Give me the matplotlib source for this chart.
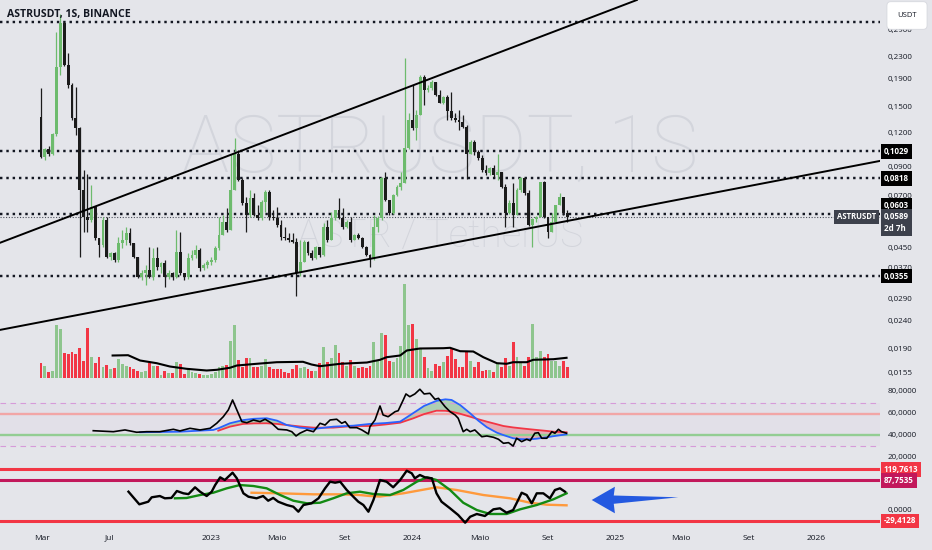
import numpy as np
import matplotlib
matplotlib.use("Agg")
import matplotlib.pyplot as plt
from matplotlib import transforms
from matplotlib.patches import Polygon

# ---- weekly ASTR/USDT candles (first week starts 2022-02-28), open = previous close
start_week = np.datetime64("2022-02-28")
first_open = 0.138
close = [
    0.098, 0.105, 0.101, 0.119, 0.212, 0.308, 0.216, 0.182, 0.137, 0.126,
    0.0741, 0.0588, 0.0573, 0.064, 0.0491, 0.0463, 0.0573, 0.0418, 0.0432, 0.0407,
    0.0471, 0.0485, 0.0513, 0.0471, 0.0418, 0.0352, 0.0364, 0.0374, 0.0352, 0.0414,
    0.0383, 0.0397, 0.0352, 0.0364, 0.0352, 0.0436, 0.0364, 0.0352, 0.0414, 0.0425,
    0.0444, 0.038, 0.039, 0.040, 0.0407, 0.0451, 0.0504, 0.0563, 0.0526, 0.0741,
    0.101, 0.0807, 0.0663, 0.0598, 0.0692, 0.0598, 0.0583, 0.0669, 0.0728, 0.0588,
    0.0583, 0.0549, 0.0496, 0.049, 0.0483, 0.0475, 0.0364, 0.040, 0.0475, 0.0432,
    0.0414, 0.0455, 0.0425, 0.054, 0.0483, 0.0583, 0.0624, 0.0583, 0.054, 0.0563,
    0.0483, 0.0504, 0.0491, 0.0455, 0.0425, 0.0414, 0.054, 0.0583, 0.0821, 0.068,
    0.061, 0.071, 0.076, 0.0787, 0.106, 0.1346, 0.1255, 0.141, 0.195, 0.174,
    0.177, 0.186, 0.167, 0.156, 0.164, 0.145, 0.137, 0.1346, 0.132, 0.127,
    0.101, 0.1115, 0.1025, 0.0975, 0.0879, 0.0857, 0.0894, 0.0842, 0.0862, 0.076,
    0.0607, 0.066, 0.0598, 0.0741, 0.0821, 0.0722, 0.0549, 0.0578, 0.0588, 0.0793,
    0.0588, 0.0517, 0.0563, 0.0652, 0.0698, 0.0607, 0.0589,
]
high = [
    0.177, 0.106, 0.108, 0.120, 0.285, 0.333, 0.310, 0.239, 0.185, 0.178,
    0.127, 0.0879, 0.085, 0.0773, 0.064, 0.0491, 0.0588, 0.0588, 0.0435, 0.0435,
    0.0496, 0.0526, 0.054, 0.0535, 0.0471, 0.0418, 0.0374, 0.039, 0.0455, 0.0451,
    0.0455, 0.040, 0.0407, 0.0374, 0.0367, 0.0526, 0.0517, 0.0364, 0.0432, 0.0444,
    0.0463, 0.0452, 0.0396, 0.0407, 0.0418, 0.046, 0.0588, 0.0598, 0.0635, 0.101,
    0.1155, 0.1042, 0.082, 0.0698, 0.0741, 0.0722, 0.0652, 0.068, 0.0741, 0.0741,
    0.0624, 0.064, 0.0573, 0.054, 0.0513, 0.0513, 0.0491, 0.0483, 0.0483, 0.0478,
    0.0444, 0.0459, 0.0455, 0.0559, 0.0573, 0.0613, 0.0624, 0.0692, 0.0635, 0.0573,
    0.0588, 0.0508, 0.0513, 0.0496, 0.0459, 0.0428, 0.0598, 0.0593, 0.0826, 0.0862,
    0.068, 0.0716, 0.0773, 0.0862, 0.228, 0.143, 0.182, 0.147, 0.198, 0.197,
    0.182, 0.189, 0.186, 0.174, 0.165, 0.166, 0.171, 0.143, 0.147, 0.141,
    0.129, 0.1135, 0.1135, 0.1042, 0.0999, 0.0917, 0.0901, 0.0917, 0.101, 0.0862,
    0.0779, 0.068, 0.0786, 0.0754, 0.0826, 0.0821, 0.0741, 0.0583, 0.0593, 0.0793,
    0.080, 0.0588, 0.0607, 0.0652, 0.0722, 0.0698, 0.0624,
]
low = [
    0.097, 0.096, 0.099, 0.100, 0.117, 0.198, 0.214, 0.177, 0.135, 0.1185,
    0.0418, 0.0517, 0.0517, 0.0563, 0.0483, 0.0418, 0.0455, 0.0414, 0.0407, 0.040,
    0.040, 0.045, 0.0463, 0.0463, 0.0414, 0.0349, 0.0343, 0.0329, 0.0349, 0.0343,
    0.0374, 0.0364, 0.0324, 0.0346, 0.0343, 0.0349, 0.0358, 0.0343, 0.0346, 0.0407,
    0.0414, 0.037, 0.0374, 0.038, 0.039, 0.040, 0.0444, 0.0504, 0.0517, 0.0526,
    0.0741, 0.080, 0.0652, 0.0517, 0.0590, 0.0593, 0.0573, 0.0573, 0.0613, 0.0573,
    0.0573, 0.054, 0.0483, 0.0483, 0.0475, 0.0471, 0.030, 0.0355, 0.040, 0.0425,
    0.0407, 0.0411, 0.0418, 0.0421, 0.0475, 0.0483, 0.0573, 0.0578, 0.0531, 0.0535,
    0.0475, 0.0483, 0.0487, 0.0451, 0.0421, 0.0382, 0.0407, 0.0517, 0.0573, 0.0674,
    0.0598, 0.0602, 0.0704, 0.0741, 0.0787, 0.1050, 0.1236, 0.1135, 0.141, 0.153,
    0.171, 0.174, 0.165, 0.155, 0.154, 0.1346, 0.1346, 0.132, 0.1236, 0.1255,
    0.081, 0.101, 0.0999, 0.0957, 0.0862, 0.0842, 0.0842, 0.0826, 0.0807, 0.0754,
    0.054, 0.0602, 0.054, 0.0598, 0.0728, 0.0710, 0.0544, 0.0455, 0.0563, 0.0588,
    0.0583, 0.0491, 0.0517, 0.0563, 0.0652, 0.0598, 0.0563,
]
# weekly volume (millions ASTR)
volume = [
    15, 12, 6, 7, 53, 49, 25, 24, 26, 24, 30, 17, 50, 21, 15, 21, 11, 13, 9, 10,
    19, 14, 12, 11, 9, 7, 6, 7, 15, 12, 12, 3, 7, 5, 5, 16, 14, 4, 9, 6,
    5, 4, 3, 3, 4, 6, 11, 12, 13, 37, 53, 18, 11, 20, 20, 11, 11, 12, 19, 11,
    9, 9, 9, 6, 5, 9, 13, 10, 11, 9, 7, 7, 15, 31, 16, 20, 33, 25, 16, 12,
    18, 12, 10, 11, 10, 12, 36, 18, 45, 43, 17, 16, 20, 32, 94, 53, 54, 39, 29, 21,
    10, 7, 14, 12, 16, 22, 29, 19, 11, 11, 27, 17, 11, 16, 7, 8, 8, 6, 14, 11,
    20, 12, 36, 21, 16, 12, 21, 54, 21, 27, 21, 24, 17, 17, 12, 17, 11,
]
vol_ma_week = [18.5, 22.5, 25.6, 29.9, 33.3, 37.6, 42.8, 45.4, 48.8, 50.6, 55.7, 60.9,
               67.7, 69.9, 72.1, 77.3, 84.2, 87.6, 89.3, 92.8, 94.5, 97.9, 104.0, 105.7,
               108.3, 111.7, 114.3, 117.8, 120.3, 122.0, 125.5, 127.2, 132.4, 135.8]
vol_ma = [22, 22.3, 17, 14.3, 11, 8.7, 7, 7.7, 9.7, 12, 13.7, 15.3, 15.7, 13, 11.3, 13.7,
          15, 17.7, 20.3, 22, 27, 29, 29.3, 29.7, 26.3, 26, 20.3, 14.3, 13.7, 15.3,
          15.3, 17.7, 18.3, 19.7]

# ---- RSI pane
rsi_week = [13.5, 18.7, 21.7, 24.7, 27.3, 30.7, 34.2, 35.9, 38.5, 41.1,
            43.7, 45.4, 47.1, 48.4, 49.5, 50.6, 51.9, 53.2, 54.9, 56.6,
            57.9, 59.6, 61.3, 63.5, 64.8, 65.9, 66.9, 68.7, 70.4, 72.1,
            73.4, 74.7, 76.4, 77.7, 78.6, 79.8, 81.6, 82.9, 84.6, 85.0,
            86.3, 87.6, 88.4, 89.7, 91.5, 92.3, 93.6, 94.3, 95.3, 96.6,
            97.9, 99.0, 100.5, 101.8, 102.7, 104.4, 105.7, 107.0, 107.8, 109.1,
            110.0, 110.9, 112.1, 113.9, 115.2, 116.9, 118.2, 119.5, 120.8, 122.0,
            122.9, 124.2, 125.5, 126.4, 127.6, 128.5, 129.4, 130.7, 132.0, 132.8,
            133.7, 134.5, 135.8]
rsi = [44.3, 43.4, 45, 42.9, 43.4, 43.4, 45.6, 44.1, 46.5, 45,
       46.5, 51.1, 57.1, 63.3, 72.4, 63.3, 52.6, 51.6, 54.1, 52.6,
       54.8, 51.1, 45.6, 45, 43.4, 39.5, 42, 45, 43.4, 51.1,
       49.5, 54.1, 54.8, 51.1, 52.6, 47.1, 47.1, 45, 41.3, 48,
       54.1, 66.9, 58.7, 57.1, 61.7, 62.6, 72.4, 77.9, 75.4, 77.9,
       82.2, 77.9, 78.5, 73, 73.9, 66.3, 61.7, 58.7, 55.7, 43.4,
       45.6, 43.4, 45, 38.8, 39.5, 38.3, 36.5, 32.8, 33.4, 30.3,
       37.4, 34.3, 36.5, 35.2, 42, 42.5, 37.4, 37.4, 43.4, 42,
       45.6, 43.4, 42]
rsi_fast_early_week = [25.6, 35.9, 44.5]
rsi_fast_early = [42.9, 43.4, 45]
rsi_ma_week = [45.8, 48.8, 52.2, 55.0, 58.3, 61.0, 63.5, 66.9, 70.4, 75.5, 80.7, 85.0,
               89.0, 92.8, 96.1, 99.0, 102.2, 104.5, 106.1, 108.3, 110.9, 113.0, 115.2,
               117.8, 119.5, 122.0, 124.0, 126.4, 128.1, 130.7, 132.4, 135.8]
rsi_fast = [46.5, 51.1, 54, 55.2, 55.7, 53.5, 49.5, 47.1, 45.9, 48, 48.9, 50.5,
            51.3, 52.6, 60.2, 67, 71.6, 73, 72.4, 67.8, 60.2, 53.5, 47.5,
            42.5, 40.3, 37.4, 36.6, 36.5, 37, 38.3, 39.3, 41]
rsi_slow = [44.3, 48, 50.5, 51, 51.1, 50.5, 49.5, 48.2, 47.1, 47.1, 48.6, 48.6,
            50, 51.6, 55.5, 59.5, 62.6, 62.5, 61.7, 59.8, 57.1, 54.8, 52.6,
            50.2, 48.6, 47.3, 46.5, 45.6, 45, 44.1, 43.4, 42.9]

# ---- bottom oscillator pane
osc_week = [22.6, 25.4, 27.7, 28.6, 30.7, 32.0, 33.7, 35.1, 36.8, 38.1, 39.8, 41.1,
            42.8, 44.1, 45.0, 46.3, 47.5, 48.4, 49.5, 50.6, 52.3, 53.6, 55.7, 57.4,
            58.7, 60.0, 61.3, 63.5, 65.2, 66.5, 67.8, 69.9, 71.7, 73.4, 74.7, 76.0,
            77.3, 79.0, 80.7, 82.0, 83.3, 84.6, 85.9, 87.6, 89.3, 91.0, 92.8, 94.5,
            95.8, 96.6, 97.9, 99.2, 101.0, 102.2, 103.5, 105.7, 107.8, 109.6, 110.9,
            112.6, 114.7, 116.9, 118.6, 120.3, 122.0, 123.3, 124.2, 125.5, 126.8,
            128.1, 129.8, 131.5, 132.8, 134.1, 135.4]
osc = [55, 18.5, 26, 38.8, 42.5, 35.9, 37, 57, 50.3, 48, 67.7, 55,
       42.5, 55, 74.3, 96.6, 88.8, 98.4, 110, 93.7, 50.3, 40.5, 35.9, 42.5,
       28.9, 37, 26, 16.5, 11.6, -2.9, 16.5, 21.4, 35.9, 64.8, 83.9, 81,
       83.9, 59.9, 40.5, 26, 16.5, -2.9, 31, 88.8, 83.9, 67.7, 88.8, 115.7,
       108.2, 93.7, 103.3, 96.6, 93.7, 50.3, 26, 6.9, -12.4, -34.7, -17.4,
       -9.5, -15.3, 4, 6.9, -5.8, 2, 31, 52, 45.4, 21.4,
       50.3, 50.3, 35.9, 59.9, 64.8, 55]
osc_fast_week = [34.6, 37.6, 41.1, 44.5, 48.0, 51.4, 54.9, 58.3, 61.8, 65.2, 68.7, 72.1,
                 75.5, 79.0, 82.4, 85.9, 90.2, 93.6, 97.1, 99.7, 102.2, 105.7, 109.1,
                 112.6, 116.0, 120.3, 123.8, 128.1, 132.4, 135.8]
osc_fast = [35.9, 36.8, 45.4, 52, 64.8, 74.3, 71.4, 64.8, 45.4, 28.9, 21.4, 23.1,
            35.9, 50.3, 55, 48.3, 45.4, 59.9, 83.9, 96.6, 88.8, 59.9, 23.1,
            2, -9.5, -9.5, 4, 16.5, 33, 50.3]
osc_slow_week = [54.4, 61.8, 70.4, 77.3, 82.4, 85.0, 87.6, 93.6, 102.2, 107.4, 114.3,
                 121.2, 126.4, 130.7, 135.8]
osc_slow = [52, 50.3, 47.4, 47.4, 45.4, 42.5, 41, 50.3, 67.7, 59.9, 45.4,
            35.9, 23.1, 17.4, 15.6]

# ---- levels and drawings
price_levels = [0.311, 0.1029, 0.0818, 0.0603, 0.0355]
price_ticks = [0.29, 0.23, 0.19, 0.15, 0.12, 0.09, 0.07, 0.045, 0.037, 0.029, 0.024, 0.019, 0.0155]
last_price = 0.0589
upper_trend = [(0, 0.0539), (100, 0.190)]
lower_trend = [(0, 0.02397), (130, 0.0547)]
osc_levels = [119.7613, 87.7535, -29.4128]
osc_level_colors = ["#f23645", "#c2185b", "#f23645"]
time_ticks = ["2022-03-01", "2022-07-01", "2023-01-01", "2023-05-01", "2023-09-01",
              "2024-01-01", "2024-05-01", "2024-09-01", "2025-01-01", "2025-05-01",
              "2025-09-01", "2026-01-01"]
time_labels = ["Mar", "Jul", "2023", "Maio", "Set", "2024", "Maio", "Set", "2025",
               "Maio", "Set", "2026"]
arrow_week = [142.3, 148.3, 148.0, 164.7, 148.0, 148.3]
arrow_val = [31.0, 69.4, 44.0, 38.8, 20.0, -7.5]

BG = "#e4e5ea"
INK = "#131722"
UP = "#6dbb6d"
DOWN = "#1b1b1b"
W, H = 932, 550
plt.rcParams["font.family"] = ["Open Sans", "DejaVu Sans"]

fig = plt.figure(figsize=(W / 100, H / 100), dpi=100, facecolor=BG)


def px_axes(top, bottom, z=1):
    ax = fig.add_axes([0, 1 - bottom / H, 880 / W, (bottom - top) / H], zorder=z)
    ax.set_axis_off()
    ax.set_xlim(-10.6, 216.8)
    return ax


ax_vol = px_axes(280, 377.5, z=1)
ax = px_axes(0, 384, z=2)
ax_rsi = px_axes(384, 462, z=2)
ax_osc = px_axes(462, 530, z=2)

ax.set_yscale("log")
ax.set_ylim(0.01412, 0.375)
ax_vol.set_ylim(0, 97.5)
ax_rsi.set_ylim(15.7, 87.0)
ax_osc.set_ylim(-55.8, 140.9)

# candles
close = np.array(close)
opens = np.concatenate([[first_open], close[:-1]])
weeks = np.arange(len(close))
up = close >= opens
body_lo = np.minimum(opens, close)
body_hi = np.maximum(np.maximum(opens, close), body_lo * 1.008)
colors = np.where(up, UP, DOWN)
ax.vlines(weeks, low, high, colors=colors, lw=0.9, zorder=3)
ax.bar(weeks, body_hi - body_lo, bottom=body_lo, width=0.74, color=colors, zorder=3, lw=0)

# volume
vol_colors = np.where(up, "#8ec58e", "#f23645")
ax_vol.bar(weeks, volume, width=0.74, color=vol_colors, lw=0)
ax_vol.plot(vol_ma_week, vol_ma, color="black", lw=1.5)

# watermark
ax.text(0.5, 0.61, "ASTRUSDT, 1S", transform=ax.transAxes, ha="center", va="center",
        fontsize=57, color="#d3d5dc", family="Roboto", weight="light", zorder=0)
ax.text(0.5, 0.385, "ASTR / TetherUS", transform=ax.transAxes, ha="center", va="center",
        fontsize=28, color="#d3d5dc", family="Roboto", weight="light", zorder=0)

# horizontal levels and trend lines
for lvl in price_levels:
    ax.axhline(lvl, color=INK, lw=1.75, linestyle=(0, (1, 1.6)), zorder=2)
ax.axhline(last_price, color="#4a4e59", lw=0.8, linestyle=(0, (1, 1.5)), zorder=2)
ax.axline(*upper_trend, color="black", lw=1.4, zorder=4)
ax.axline(*lower_trend, color="black", lw=1.4, zorder=4)

# RSI pane
ax_rsi.axhspan(30, 70, color="#9c27b0", alpha=0.025, lw=0)
ax_rsi.axhline(70, color="#d69bd9", lw=0.8, linestyle=(0, (5, 4)))
ax_rsi.axhline(30, color="#d69bd9", lw=0.8, linestyle=(0, (5, 4)))
ax_rsi.axhline(60, color="#f2a6a6", lw=1.7)
ax_rsi.axhline(40, color="#93cd93", lw=1.7)
fast = np.array(rsi_fast)
slow = np.array(rsi_slow)
ax_rsi.fill_between(rsi_ma_week, fast, slow, where=fast >= slow, interpolate=True,
                    color="#4caf50", alpha=0.35, lw=0)
ax_rsi.fill_between(rsi_ma_week, fast, slow, where=fast < slow, interpolate=True,
                    color="#f23645", alpha=0.3, lw=0)
ax_rsi.plot(rsi_ma_week, slow, color="#f23645", lw=1.3)
ax_rsi.plot(rsi_fast_early_week + rsi_ma_week, rsi_fast_early + rsi_fast,
            color="#2962ff", lw=1.3)
ax_rsi.plot(rsi_week, rsi, color="black", lw=1.2)

# oscillator pane
for lvl, col in zip(osc_levels, osc_level_colors):
    ax_osc.axhline(lvl, color=col, lw=2.2)
ax_osc.plot(osc_slow_week, osc_slow, color="#ff9a3c", lw=1.7)
ax_osc.plot(osc_fast_week, osc_fast, color="#138a13", lw=1.7)
ax_osc.plot(osc_week, osc, color="black", lw=1.7)
ax_osc.add_patch(Polygon(list(zip(arrow_week, arrow_val)), closed=True,
                         fc="#2459e0", ec="none"))


# right-hand scale
def fmt(v):
    return f"{v:.4f}".replace(".", ",")


def right_text(a, y, s, x_px=888, dy=0, fc=None, color=INK, bold=False, va="center", z=5):
    tr = transforms.blended_transform_factory(fig.transFigure, a.transData)
    tr = transforms.offset_copy(tr, fig=fig, y=-dy, units="dots")
    t = a.text(x_px / W, y, s, transform=tr, ha="left", va=va, fontsize=5.8,
               color=color, weight="bold" if bold else "normal", zorder=z,
               linespacing=1.5)
    if fc:
        t.set_bbox(dict(boxstyle="square,pad=0.35", fc=fc, ec="none"))
    return t


for p in price_ticks:
    # the 0,0370 tick sits partly under the 0,0355 level tag, so nudge it up a bit
    right_text(ax, p, fmt(p), dy=-3 if p == 0.037 else 0)
for v in [80, 60, 40, 20]:
    right_text(ax_rsi, v, fmt(v))
right_text(ax_osc, 0, fmt(0))

for lvl in price_levels[1:]:
    dy = -9 if lvl == 0.0603 else 0
    right_text(ax, lvl, fmt(lvl), x_px=884, dy=dy, fc="black", color="white", bold=True, z=7)
right_text(ax, last_price, fmt(last_price) + "\n2d 7h", x_px=884, dy=-5, fc="#3d414c",
           color="white", bold=True, va="top", z=8)
tr_lab = transforms.blended_transform_factory(fig.transFigure, ax.transData)
ax.text(837 / W, last_price, "ASTRUSDT", transform=tr_lab, ha="left", va="center",
        fontsize=5.6, color="white", weight="bold", zorder=8,
        bbox=dict(boxstyle="square,pad=0.35", fc="#3d414c", ec="none"))
for lvl, col in zip(osc_levels, osc_level_colors):
    right_text(ax_osc, lvl, fmt(lvl), x_px=884, fc=col, color="white", bold=True, z=7)

fig.text(907 / W, 1 - 15.5 / H, "USDT", ha="center", va="center", fontsize=5.5,
         color=INK, zorder=10,
         bbox=dict(boxstyle="round,pad=1.35,rounding_size=0.5", fc="white", ec="#d6d8de", lw=0.6))

# time axis
tr_time = transforms.blended_transform_factory(ax_osc.transData, fig.transFigure)
for d, lab in zip(time_ticks, time_labels):
    wk = (np.datetime64(d) - start_week).astype(int) / 7
    ax_osc.text(wk, 1 - 538 / H, lab, transform=tr_time, ha="center", va="center",
                fontsize=6, color=INK)

fig.text(7 / W, 1 - 14 / H, "ASTRUSDT, 1S, BINANCE", ha="left", va="center",
         fontsize=7.6, weight="bold", color=INK)

fig.savefig("out.png", dpi=100, facecolor=BG)
